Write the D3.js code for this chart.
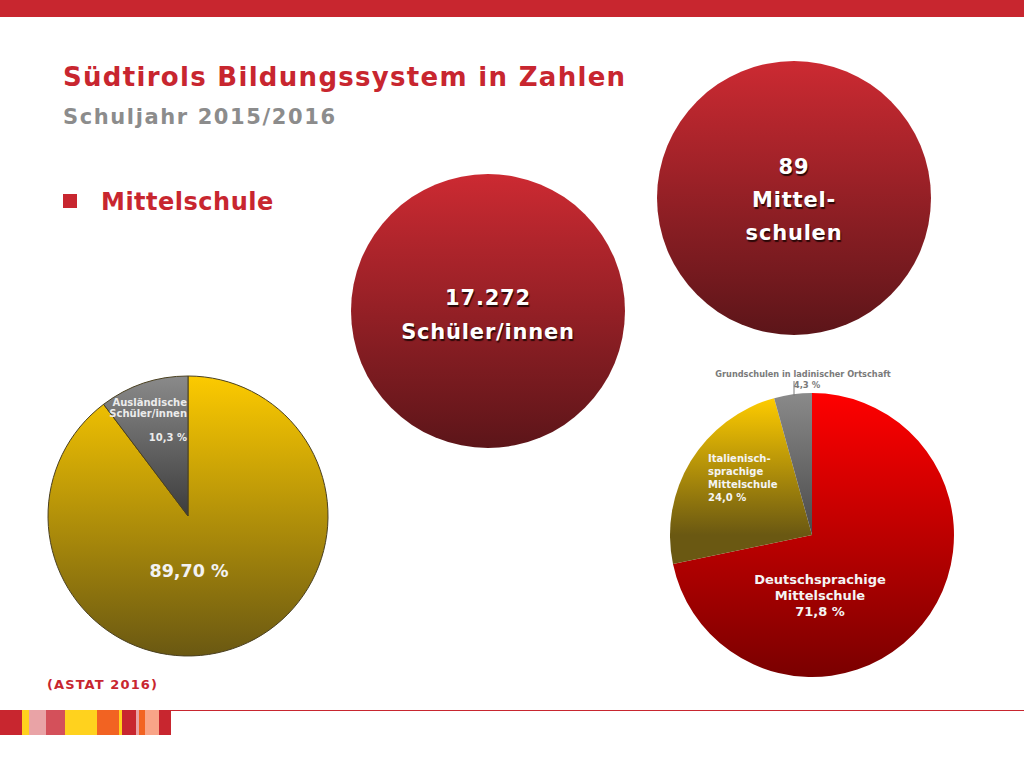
<!DOCTYPE html>
<html lang="de">
<head>
<meta charset="UTF-8">
<title>Südtirols Bildungssystem in Zahlen</title>
<script src="https://d3js.org/d3.v7.min.js"></script>
<style>
    body { margin: 0; background: #fff; }
    svg { display: block; font-family: "DejaVu Sans", Verdana, sans-serif; font-weight: bold; }
    .shadow { text-shadow: 1px 1.5px 1px #2a0808; }
</style>
</head>
<body>
<div id="chart"></div>
<script>
// Data
const foreignLabels = ["Inländische", "Ausländische Schüler/innen"];
const foreignValues = [89.7, 10.3];
const schoolLabels = ["Deutschsprachige Mittelschule", "Italienischsprachige Mittelschule", "Grundschulen in ladinischer Ortschaft"];
const schoolValues = [71.8, 24.0, 4.3];
const bubbleLabels = [["17.272", "Schüler/innen"], ["89", "Mittel-", "schulen"]];

// Decorative stripe at the bottom (width, colour)
const stripe = [[22, "#c8262f"], [7, "#ffd21e"], [17, "#e9a3a6"], [19, "#d4505a"], [32, "#ffd21e"],
    [22, "#f26322"], [3, "#ffd21e"], [14, "#c8262f"], [3, "#e9a3a6"], [6, "#f26322"], [14, "#f9a487"], [12, "#c8262f"]];

const W = 1024, H = 768;
const red = "#c8262f";
const svg = d3.select("#chart").append("svg").attr("width", W).attr("height", H);
const defs = svg.append("defs");

// vertical gradient, coordinates in the user space of the element using it
function grad(id, y0, y1, c0, c1) {
    const g = defs.append("linearGradient").attr("id", id)
        .attr("gradientUnits", "userSpaceOnUse")
        .attr("x1", 0).attr("x2", 0).attr("y1", y0).attr("y2", y1);
    g.append("stop").attr("offset", "0%").attr("stop-color", c0);
    g.append("stop").attr("offset", "100%").attr("stop-color", c1);
}

// top band
svg.append("rect").attr("x", 0).attr("y", 0).attr("width", W).attr("height", 17).attr("fill", red);

// titles
svg.append("text").attr("x", 63).attr("y", 86).attr("fill", red).attr("font-size", 26)
    .attr("letter-spacing", 1.3).text("Südtirols Bildungssystem in Zahlen");
svg.append("text").attr("x", 63).attr("y", 124).attr("fill", "#8c8c8c").attr("font-size", 21)
    .attr("letter-spacing", 1.6).text("Schuljahr 2015/2016");
svg.append("rect").attr("x", 63).attr("y", 194).attr("width", 14).attr("height", 14).attr("fill", red);
svg.append("text").attr("x", 101).attr("y", 210).attr("fill", red).attr("font-size", 24)
    .attr("letter-spacing", 0.5).text("Mittelschule");

// bubbles
const bubbles = [{cx: 488, cy: 311, r: 137, lines: bubbleLabels[0], y0: 305, step: 34},
                 {cx: 794, cy: 198, r: 137, lines: bubbleLabels[1], y0: 174, step: 33}];
bubbles.forEach((b, i) => {
    grad("bub" + i, b.cy - b.r, b.cy + b.r, "#cc2a32", "#5c1519");
    svg.append("circle").attr("cx", b.cx).attr("cy", b.cy).attr("r", b.r).attr("fill", `url(#bub${i})`);
    b.lines.forEach((t, j) => {
        svg.append("text").attr("class", "shadow").attr("x", b.cx).attr("y", b.y0 + j * b.step)
            .attr("text-anchor", "middle").attr("fill", "#fff").attr("font-size", 21)
            .attr("letter-spacing", 0.8).text(t);
    });
});

const pie = d3.pie().sort(null);

// pie 1: foreign students
const p1 = {cx: 188, cy: 516, r: 140};
grad("yel1", -p1.r, p1.r, "#fcca00", "#6a5812");
grad("gry1", -p1.r, 0, "#8a8a8a", "#3c3c3c");
const arc1 = d3.arc().innerRadius(0).outerRadius(p1.r);
const g1 = svg.append("g").attr("transform", `translate(${p1.cx},${p1.cy})`);
const fill1 = ["url(#yel1)", "url(#gry1)"];
g1.selectAll("path").data(pie(foreignValues)).join("path")
    .attr("d", arc1).attr("fill", (d, i) => fill1[i])
    .attr("stroke", "#4a4020").attr("stroke-width", 1);

const lab1 = svg.append("g").attr("fill", "#ececec").attr("font-size", 10).attr("text-anchor", "end");
[["Ausländische", 406], ["Schüler/innen", 417], ["10,3 %", 441]].forEach(([t, y]) =>
    lab1.append("text").attr("x", 187).attr("y", y).text(t));
svg.append("text").attr("x", 189).attr("y", 577).attr("text-anchor", "middle")
    .attr("fill", "#f2f2f2").attr("font-size", 17.5).text("89,70 %");

// pie 2: school types
const p2 = {cx: 812, cy: 535, r: 142};
grad("red2", -p2.r, p2.r, "#ff0000", "#7a0000");
grad("yel2", -135, 0, "#fcca00", "#6a5812");
grad("gry2", -p2.r, 0, "#8a8a8a", "#4a4a4a");
const arc2 = d3.arc().innerRadius(0).outerRadius(p2.r);
const g2 = svg.append("g").attr("transform", `translate(${p2.cx},${p2.cy})`);
const fill2 = ["url(#red2)", "url(#yel2)", "url(#gry2)"];
g2.selectAll("path").data(pie(schoolValues)).join("path")
    .attr("d", arc2).attr("fill", (d, i) => fill2[i]);

svg.append("text").attr("x", 803).attr("y", 377).attr("text-anchor", "middle")
    .attr("fill", "#7a7a7a").attr("font-size", 8.2).text(schoolLabels[2]);
svg.append("text").attr("x", 807).attr("y", 388).attr("text-anchor", "middle")
    .attr("fill", "#7a7a7a").attr("font-size", 8.5).text("4,3 %");
svg.append("line").attr("x1", 794).attr("x2", 794).attr("y1", 381).attr("y2", 396)
    .attr("stroke", "#7a7a7a").attr("stroke-width", 1);

const lab2 = svg.append("g").attr("fill", "#f4f4f4").attr("font-size", 10);
[["Italienisch-", 462], ["sprachige", 475], ["Mittelschule", 488], ["24,0 %", 501]].forEach(([t, y]) =>
    lab2.append("text").attr("x", 708).attr("y", y).text(t));
const lab3 = svg.append("g").attr("fill", "#f4f4f4").attr("font-size", 13).attr("text-anchor", "middle");
[["Deutschsprachige", 584], ["Mittelschule", 600], ["71,8 %", 616]].forEach(([t, y]) =>
    lab3.append("text").attr("x", 820).attr("y", y).text(t));

// source
svg.append("text").attr("x", 47).attr("y", 689).attr("fill", red).attr("font-size", 13)
    .attr("letter-spacing", 1.1).text("(ASTAT 2016)");

// bottom stripe
svg.append("line").attr("x1", 170).attr("x2", W).attr("y1", 710.5).attr("y2", 710.5)
    .attr("stroke", red).attr("stroke-width", 1);
let sx = 0;
stripe.forEach(([w, c]) => {
    svg.append("rect").attr("x", sx).attr("y", 710).attr("width", w).attr("height", 25).attr("fill", c);
    sx += w;
});
</script>
</body>
</html>
